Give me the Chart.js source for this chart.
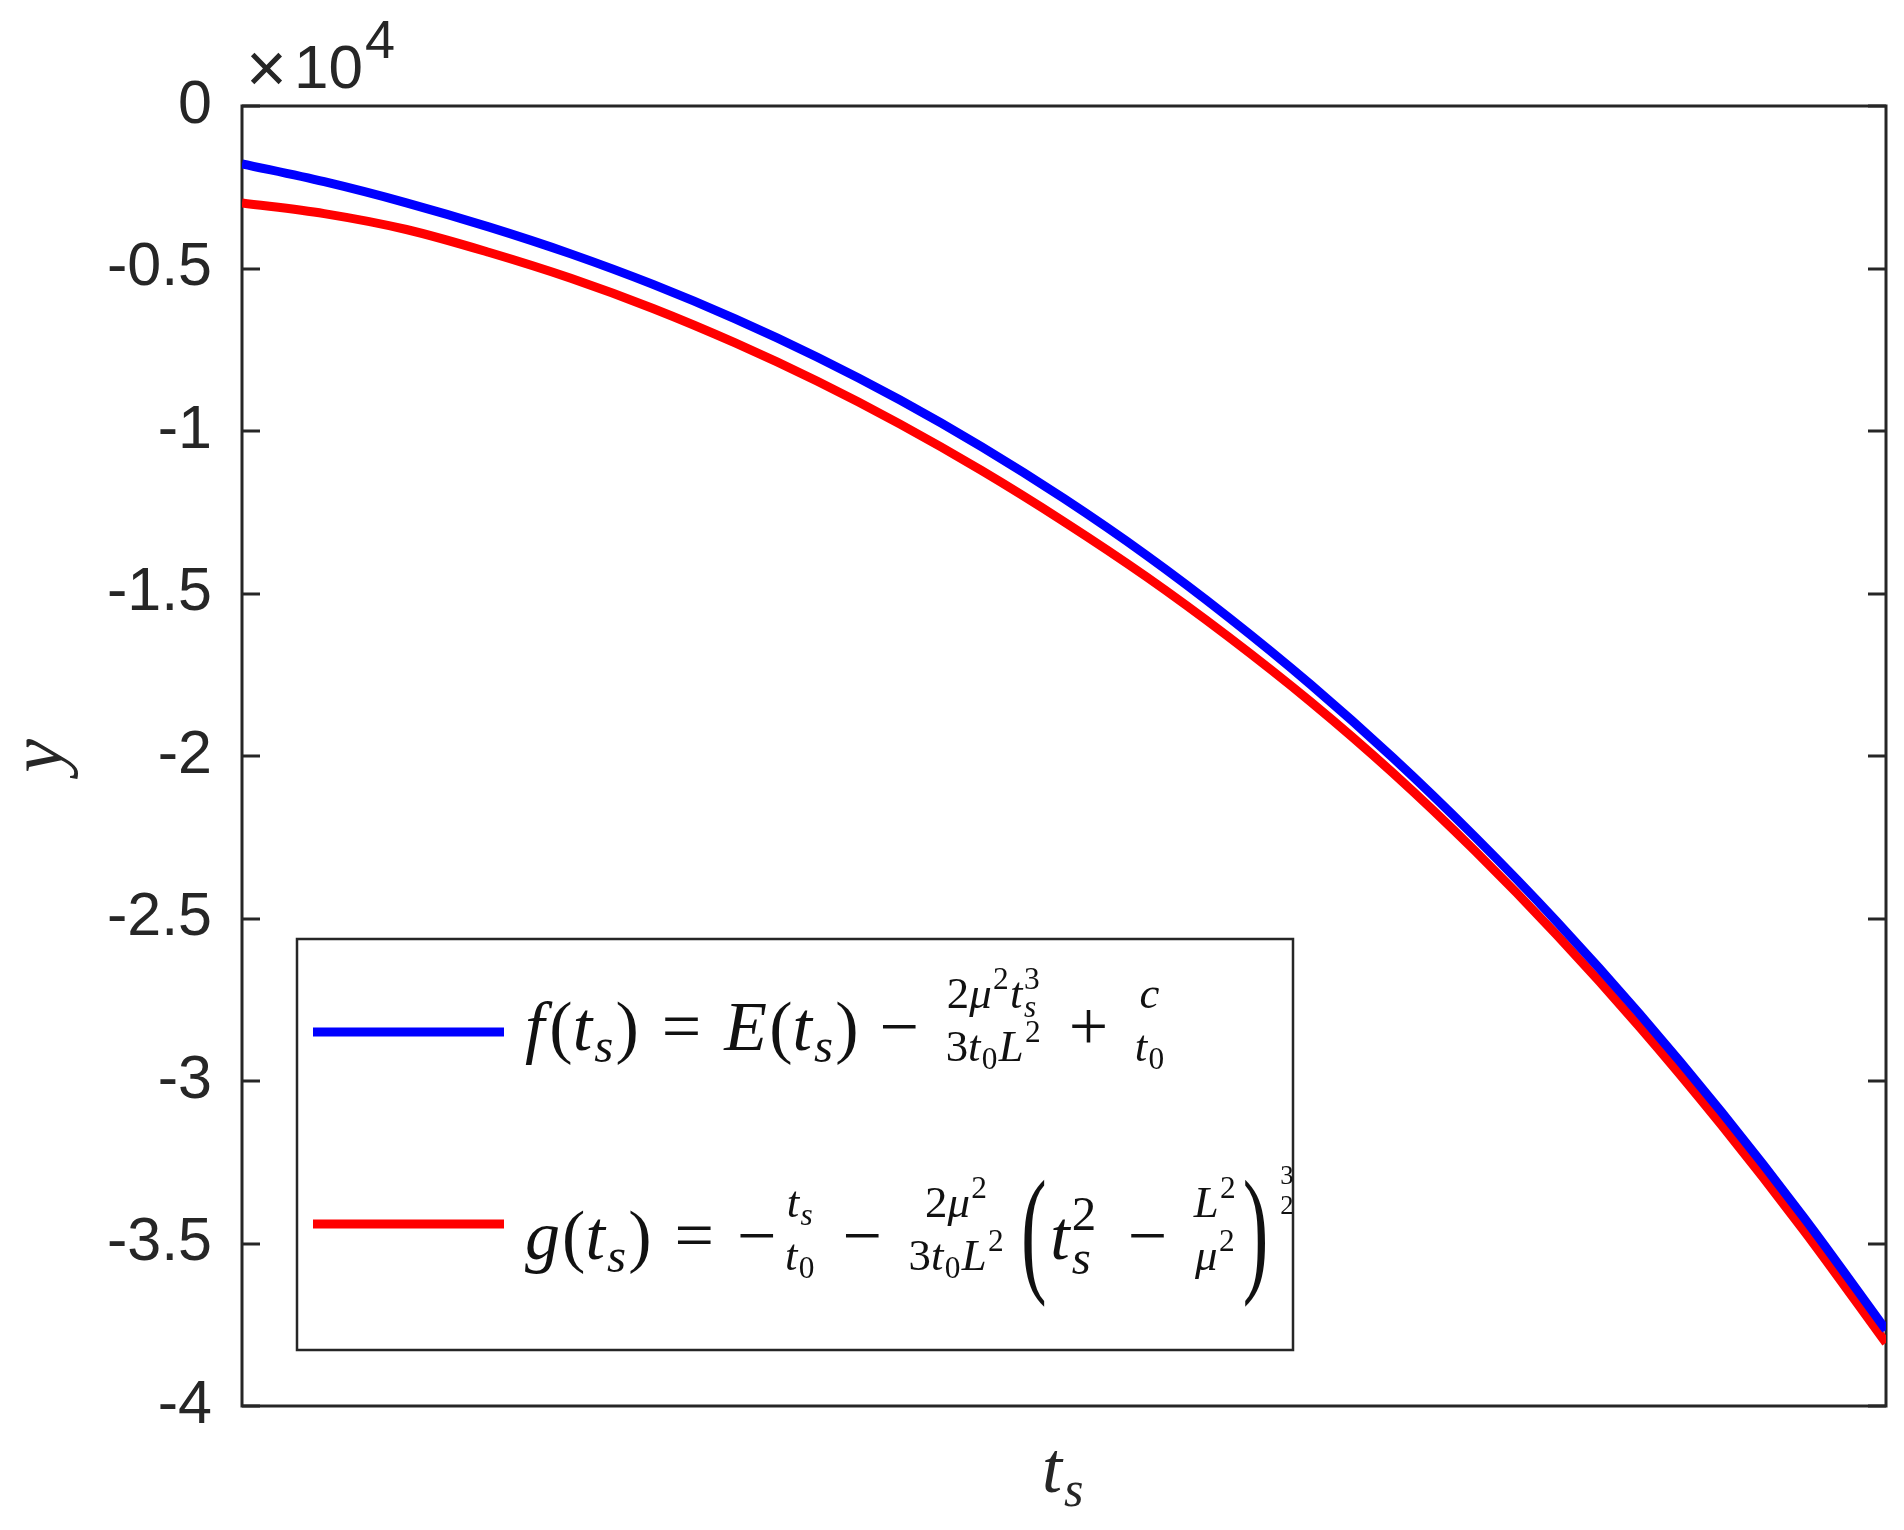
<!DOCTYPE html>
<html>
<head>
<meta charset="utf-8">
<script src="https://cdn.jsdelivr.net/npm/chart.js@4.4.1/dist/chart.umd.min.js"></script>
<style>
  html, body { margin: 0; padding: 0; background: #fff; }
  canvas { display: block; }
</style>
</head>
<body>
<canvas id="c" width="1904" height="1530"></canvas>
<script>
// t_s positions along the axis (the original shows no x tick labels)
const tPos  = [0, 0.05, 0.10, 0.15, 0.20, 0.25, 0.30, 0.35, 0.40, 0.45, 0.50,
               0.55, 0.60, 0.65, 0.70, 0.75, 0.80, 0.85, 0.90, 0.95, 1.00];
// f(t_s), blue
const fVals = [-1780, -2330, -2980, -3720, -4550, -5490, -6550, -7730, -9040, -10490, -12080,
               -13820, -15730, -17800, -20050, -22490, -25110, -27930, -30960, -34200, -37660];
// g(t_s), red
const gVals = [-2980, -3310, -3800, -4500, -5300, -6230, -7290, -8470, -9780, -11220, -12790,
               -14480, -16330, -18330, -20520, -22920, -25520, -28330, -31360, -34600, -38060];
const yTicks = [0, -5000, -10000, -15000, -20000, -25000, -30000, -35000, -40000];

const INK   = '#262626';
const SANS  = '"Liberation Sans", Arial, sans-serif';
const SERIF = '"Liberation Serif", "DejaVu Serif", serif';

// legend formulas, laid out as small token lists
const fMath = [['i','f'],['sp',0.04],['r','('],['i','t'],['sub','s'],['r',')'],['op','=',0.33],
  ['i','E'],['r','('],['i','t'],['sub','s'],['r',')'],['op','−',0.3],
  ['frac',[['r','2'],['i','μ'],['sup','2'],['i','t'],['ss','3','s']],[['r','3'],['i','t'],['sub','0'],['i','L'],['sup','2']]],
  ['op','+',0.3],['frac',[['i','c']],[['i','t'],['sub','0']]]];
const gMath = [['i','g'],['r','('],['i','t'],['sub','s'],['r',')'],['op','=',0.33],['r','−'],['sp',0.04],
  ['frac',[['i','t'],['sub','s']],[['i','t'],['sub','0']]],['op','−',0.3],
  ['frac',[['r','2'],['i','μ'],['sup','2']],[['r','3'],['i','t'],['sub','0'],['i','L'],['sup','2']]],['sp',0.15],
  ['big','('],['i','t'],['ss','2','s'],['sp',0.12],['op','−',0.3],['frac',[['i','L'],['sup','2']],[['i','μ'],['sup','2']]],
  ['big',')'],['exp','3','2']];

function mfont(size, it) { return (it ? 'italic ' : '') + size + 'px ' + SERIF; }

function runMath(ctx, seq, x, y, S, draw) {
  for (const tok of seq) {
    const k = tok[0];
    if (k === 'i' || k === 'r') {
      ctx.font = mfont(S, k === 'i');
      if (draw) ctx.fillText(tok[1], x, y);
      x += ctx.measureText(tok[1]).width + (k === 'i' ? S * 0.03 : 0);
    } else if (k === 'sub' || k === 'sup') {
      const s = S * 0.7;
      ctx.font = mfont(s, /[a-z]/.test(tok[1]));
      if (draw) ctx.fillText(tok[1], x, y + (k === 'sub' ? S * 0.18 : -S * 0.42));
      x += ctx.measureText(tok[1]).width + S * 0.03;
    } else if (k === 'ss') {
      const s = S * 0.7;
      ctx.font = mfont(s, false);
      const w1 = ctx.measureText(tok[1]).width;
      if (draw) ctx.fillText(tok[1], x, y - S * 0.42);
      ctx.font = mfont(s, true);
      const w2 = ctx.measureText(tok[2]).width;
      if (draw) ctx.fillText(tok[2], x, y + S * 0.22);
      x += Math.max(w1, w2) + S * 0.03;
    } else if (k === 'op') {
      x += S * tok[2];
      ctx.font = mfont(S, false);
      if (draw) ctx.fillText(tok[1], x, y);
      x += ctx.measureText(tok[1]).width + S * tok[2];
    } else if (k === 'sp') {
      x += S * tok[1];
    } else if (k === 'frac') {
      const s = S * 0.64;
      const wn = runMath(ctx, tok[1], 0, 0, s, false);
      const wd = runMath(ctx, tok[2], 0, 0, s, false);
      const w = Math.max(wn, wd);
      x += S * 0.08;
      if (draw) {
        runMath(ctx, tok[1], x + (w - wn) / 2, y - S * 0.6, s, true);
        runMath(ctx, tok[2], x + (w - wd) / 2, y + S * 0.16, s, true);
      }
      x += w + S * 0.08;
    } else if (k === 'big') {
      const fs = S * 2.0;
      ctx.font = mfont(fs, false);
      const w = ctx.measureText(tok[1]).width * 0.55;
      if (draw) {
        ctx.save();
        ctx.translate(x, y + S * 0.25);
        ctx.scale(0.55, 1);
        ctx.fillText(tok[1], 0, 0);
        ctx.restore();
      }
      x += w + S * 0.05;
    } else if (k === 'exp') {
      const s = S * 0.38;
      ctx.font = mfont(s, false);
      const w = Math.max(ctx.measureText(tok[1]).width, ctx.measureText(tok[2]).width);
      x += S * 0.12;
      if (draw) {
        ctx.fillText(tok[1], x, y - S * 1.07);
        ctx.fillText(tok[2], x, y - S * 0.64);
      }
      x += w;
    }
  }
  return x;
}

// axes box with inward y ticks on both sides, drawn under the curves
const frame = {
  id: 'frame',
  beforeDatasetsDraw(chart) {
    const { ctx, chartArea: a, scales: { y } } = chart;
    ctx.save();
    ctx.strokeStyle = INK;
    ctx.lineWidth = 3;
    ctx.strokeRect(a.left, a.top, a.right - a.left, a.bottom - a.top);
    ctx.beginPath();
    yTicks.forEach(v => {
      const py = Math.round(y.getPixelForValue(v));
      ctx.moveTo(a.left, py);  ctx.lineTo(a.left + 18, py);
      ctx.moveTo(a.right - 18, py); ctx.lineTo(a.right, py);
    });
    ctx.stroke();
    ctx.restore();
  },
  afterDraw(chart) {
    const { ctx, chartArea: a } = chart;
    ctx.save();
    ctx.fillStyle = INK;
    ctx.textBaseline = 'alphabetic';
    // x10^4 multiplier
    ctx.font = '70px ' + SANS;
    ctx.fillText('×', a.left + 4, a.top - 14);
    ctx.font = '62px ' + SANS;
    ctx.fillText('10', a.left + 52, a.top - 18);
    const w = ctx.measureText('10').width;
    ctx.font = '54px ' + SANS;
    ctx.fillText('4', a.left + 54 + w, a.top - 48);
    // x title t_s
    const cx = (a.left + a.right) / 2;
    ctx.font = mfont(72, true);
    const tw = ctx.measureText('t').width;
    ctx.fillText('t', cx - 22, a.bottom + 86);
    ctx.font = mfont(50, true);
    ctx.fillText('s', cx - 22 + tw + 2, a.bottom + 100);
    // y title
    ctx.save();
    ctx.translate(62, (a.top + a.bottom) / 2);
    ctx.rotate(-Math.PI / 2);
    ctx.font = mfont(76, true);
    ctx.textAlign = 'center';
    ctx.fillText('y', 0, 0);
    ctx.restore();
    ctx.restore();
  }
};

// legend box with the two formulas
const mathLegend = {
  id: 'mathLegend',
  afterDatasetsDraw(chart) {
    const { ctx, chartArea: a } = chart;
    const left = a.left + 55, right = a.left + 1051;
    const bottom = a.bottom - 56, top = bottom - 411;
    ctx.save();
    ctx.fillStyle = '#fff';
    ctx.fillRect(left, top, right - left, bottom - top);
    ctx.strokeStyle = INK;
    ctx.lineWidth = 2.5;
    ctx.strokeRect(left, top, right - left, bottom - top);
    const S = 70;
    const rows = [{ math: fMath, ly: top + 93, base: top + 93 + 0.25 * S },
                  { math: gMath, ly: top + 285, base: top + 285 + 0.5 * S }];
    rows.forEach((r, i) => {
      const ds = chart.data.datasets[i];
      ctx.strokeStyle = ds.borderColor;
      ctx.lineWidth = 9;
      ctx.beginPath();
      ctx.moveTo(left + 16, r.ly);
      ctx.lineTo(left + 207, r.ly);
      ctx.stroke();
      ctx.fillStyle = '#111';
      runMath(ctx, r.math, left + 228, r.base, S, true);
    });
    ctx.restore();
  }
};

new Chart(document.getElementById('c'), {
  type: 'line',
  data: {
    datasets: [
      {
        label: 'f(t_s) = E(t_s) − 2μ²t_s³/(3t_0L²) + c/t_0',
        data: tPos.map((t, i) => ({ x: t, y: fVals[i] })),
        borderColor: '#0000ff',
        borderWidth: 9,
        pointRadius: 0,
        cubicInterpolationMode: 'monotone',
        fill: false,
      },
      {
        label: 'g(t_s) = −t_s/t_0 − 2μ²/(3t_0L²) (t_s² − L²/μ²)^(3/2)',
        data: tPos.map((t, i) => ({ x: t, y: gVals[i] })),
        borderColor: '#ff0000',
        borderWidth: 9,
        pointRadius: 0,
        cubicInterpolationMode: 'monotone',
        fill: false,
      },
    ],
  },
  options: {
    responsive: false,
    animation: false,
    devicePixelRatio: 1,
    layout: { padding: { left: 0, top: 106, right: 18, bottom: 124 } },
    plugins: { legend: { display: false }, tooltip: { enabled: false } },
    scales: {
      x: { type: 'linear', min: 0, max: 1, display: false },
      y: {
        type: 'linear',
        min: -40000,
        max: 0,
        afterFit(s) { s.width = 242; },
        afterBuildTicks(s) { s.ticks = yTicks.map(v => ({ value: v })); },
        grid: { display: false, drawTicks: false },
        border: { display: false },
        ticks: {
          padding: 30,
          color: INK,
          font: { family: SANS, size: 61 },
          callback: v => String(v / 1e4),
        },
      },
    },
  },
  plugins: [frame, mathLegend],
});
</script>
</body>
</html>
